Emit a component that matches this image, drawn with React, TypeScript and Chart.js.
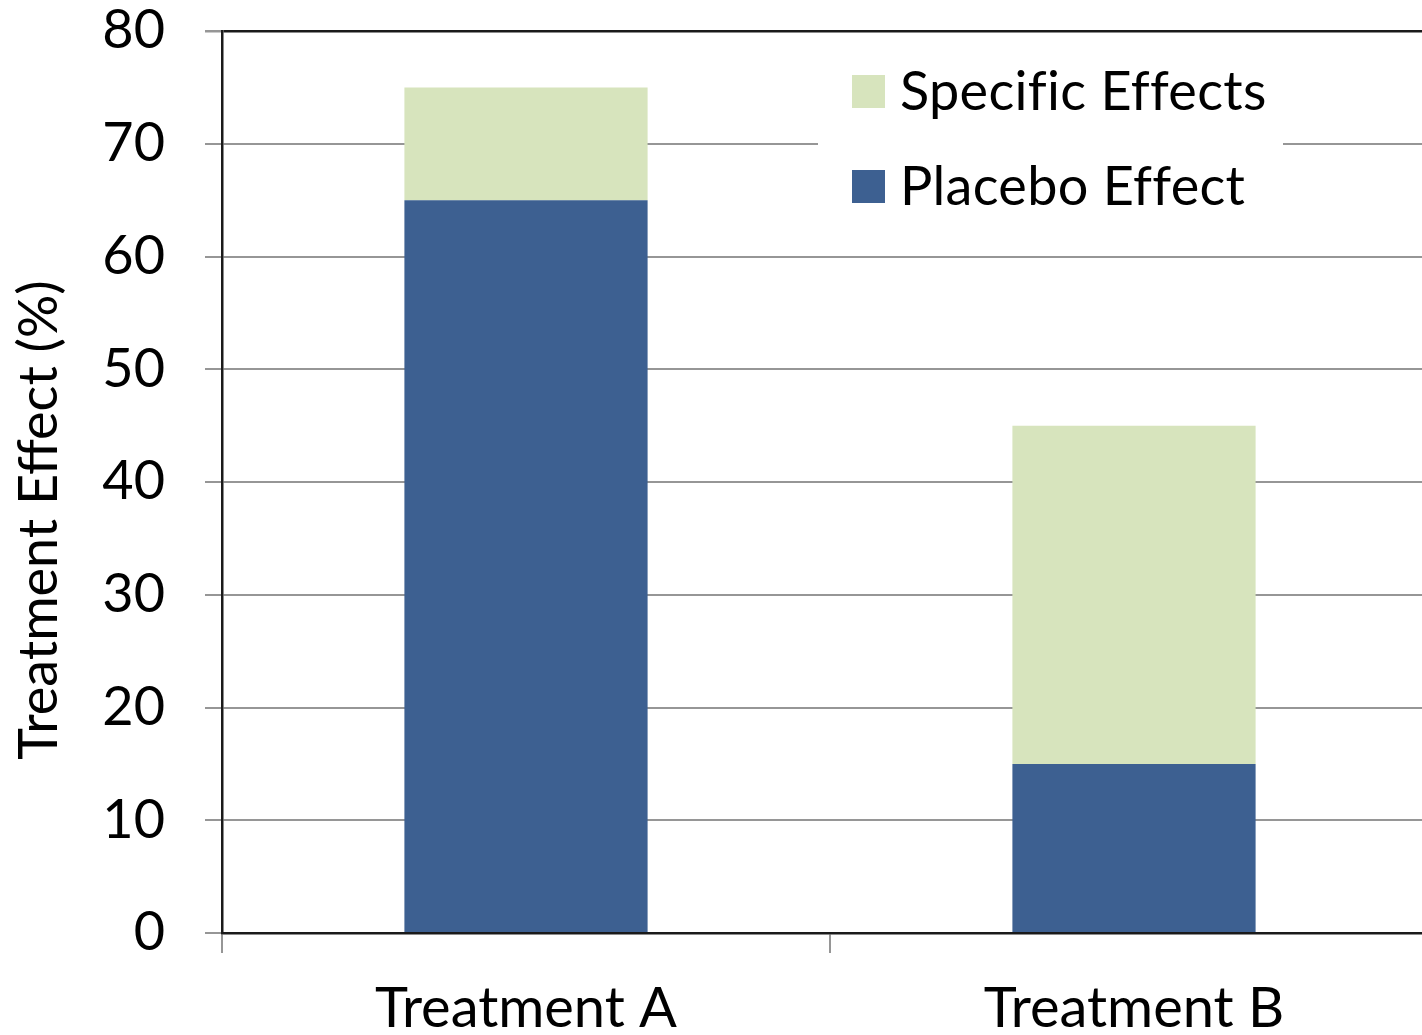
import React, { useEffect, useRef } from "react";
import { Chart, registerables } from "chart.js";

Chart.register(...registerables);

const categories = ["Treatment A", "Treatment B"];
const placeboEffect = [65, 15];
const specificEffects = [10, 30];
const yTicks = [0, 10, 20, 30, 40, 50, 60, 70, 80];
const yTitle = "Treatment Effect (%)";

const FONT = "Lato, 'Open Sans', sans-serif";
const FONT_SIZE = 54;
const BLUE = "#3D6091";
const GREEN = "#D7E4BD";
const GRID = "#969696";
const AXIS = "#1a1a1a";

// Legend drawn inside the plot with a white box behind it
const insideLegend = {
  id: "insideLegend",
  afterDatasetsDraw(chart: any) {
    const ctx = chart.ctx;
    ctx.save();
    ctx.fillStyle = "#ffffff";
    ctx.fillRect(818, 50, 465, 185);
    const items = chart.data.datasets.slice().reverse();
    items.forEach((ds: any, i: number) => {
      const cy = 92 + i * 95;
      ctx.fillStyle = ds.backgroundColor;
      ctx.fillRect(852, cy - 17, 33, 33);
      ctx.fillStyle = "#000";
      ctx.font = `${FONT_SIZE}px ${FONT}`;
      // a tiny letter spacing keeps "f" and "i" as separate glyphs
      (ctx as any).letterSpacing = "0.3px";
      ctx.textAlign = "left";
      ctx.textBaseline = "middle";
      ctx.fillText(ds.label, 900, cy + 1);
    });
    ctx.restore();
  },
};

// Rotated y-axis title
const yTitlePlugin = {
  id: "yTitlePlugin",
  afterDraw(chart: any) {
    const ctx = chart.ctx;
    ctx.save();
    ctx.translate(40, 520);
    ctx.rotate(-Math.PI / 2);
    ctx.fillStyle = "#000";
    ctx.font = `${FONT_SIZE}px ${FONT}`;
    ctx.textAlign = "center";
    ctx.textBaseline = "middle";
    ctx.fillText(yTitle, 0, 0);
    ctx.restore();
  },
};

export default function App() {
  const ref = useRef<HTMLCanvasElement>(null);

  useEffect(() => {
    if (!ref.current) return;
    const chart = new Chart(ref.current, {
      type: "bar",
      data: {
        labels: categories,
        datasets: [
          {
            label: "Placebo Effect",
            data: placeboEffect,
            backgroundColor: BLUE,
            barPercentage: 0.4,
            categoryPercentage: 1,
          },
          {
            label: "Specific Effects",
            data: specificEffects,
            backgroundColor: GREEN,
            barPercentage: 0.4,
            categoryPercentage: 1,
          },
        ],
      },
      options: {
        responsive: false,
        animation: false,
        layout: { padding: { top: 31, right: 2, left: 0, bottom: 0 } },
        plugins: {
          legend: { display: false },
          tooltip: { enabled: false },
        },
        scales: {
          x: {
            stacked: true,
            offset: true,
            grid: {
              display: true,
              offset: true,
              drawOnChartArea: false,
              drawTicks: true,
              tickLength: 20,
              color: GRID,
              lineWidth: 2,
            },
            border: { display: true, color: AXIS, width: 2.5 },
            ticks: {
              color: "#000",
              font: { family: FONT, size: 56 },
              padding: 22,
              maxRotation: 0,
            },
            afterFit(scale: any) {
              scale.height = 102;
              scale.paddingLeft = 0;
              scale.paddingRight = 0;
            },
          },
          y: {
            stacked: true,
            min: yTicks[0],
            max: yTicks[yTicks.length - 1],
            afterBuildTicks(scale: any) {
              scale.ticks = yTicks.map((v) => ({ value: v }));
            },
            grid: {
              color: (c: any) => (c.tick && c.tick.value === 80 ? AXIS : GRID),
              lineWidth: (c: any) => (c.tick && c.tick.value === 80 ? 2.5 : 2),
              tickColor: GRID,
              tickLength: 17,
              drawTicks: true,
            },
            border: { display: true, color: AXIS, width: 2.5 },
            ticks: {
              color: "#000",
              font: { family: FONT, size: FONT_SIZE },
              padding: 40,
            },
            afterFit(scale: any) {
              scale.width = 222;
              scale.paddingTop = 0;
              scale.paddingBottom = 0;
            },
          },
        },
      },
      plugins: [insideLegend, yTitlePlugin],
    });
    return () => chart.destroy();
  }, []);

  return (
    <div
      style={{
        position: "absolute",
        left: 0,
        top: 0,
        width: 1422,
        height: 1035,
        overflow: "hidden",
        background: "#fff",
      }}
    >
      <canvas
        ref={ref}
        width={1440}
        height={1035}
        style={{ width: 1440, height: 1035, display: "block" }}
      />
    </div>
  );
}
